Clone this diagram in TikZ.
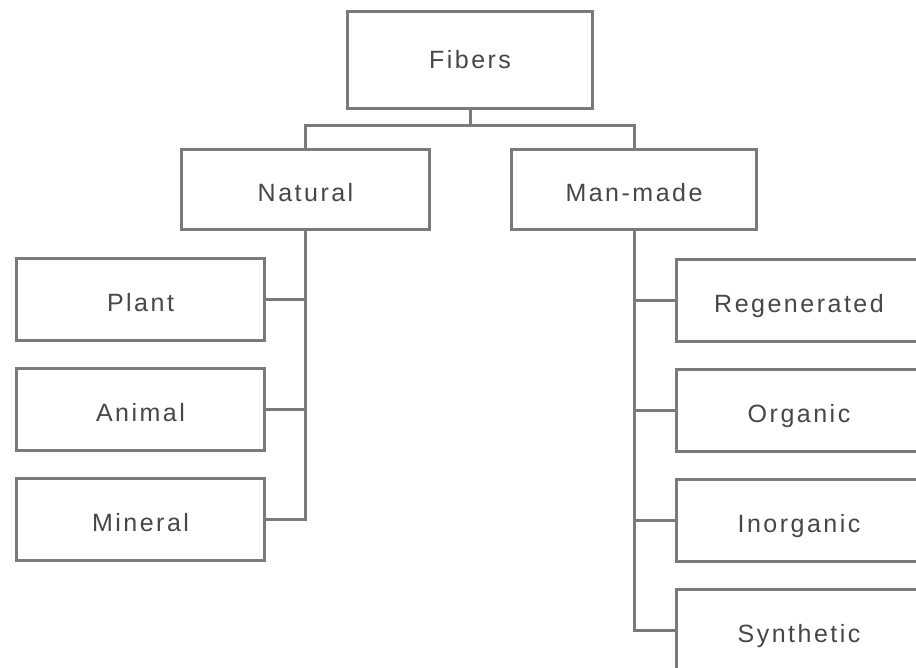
\documentclass[tikz,border=0pt]{standalone}
\usepackage{fontspec}
\setmainfont{Liberation Sans}[LetterSpace=10]
\begin{document}
\begin{tikzpicture}[x=1pt,y=-1pt,
  linecol/.style={draw=black!52, line width=3pt},
  fbox/.style={linecol, fill=white, minimum width=245pt, minimum height=82pt,
    inner sep=0pt, text=black!72, font=\fontsize{25}{29}\selectfont,
    text height=24pt, text depth=0pt, anchor=north west},
  link/.style={linecol}]
\useasboundingbox (0,0) rectangle (916,668);
% root and first level
\node[fbox, minimum height=97pt, text height=18pt] (fibers) at (346,10) {Fibers};
\node[fbox, minimum height=80pt, minimum width=248pt] (natural) at (180,148) {Natural};
\node[fbox, minimum height=80pt] (manmade) at (510,148) {Man-made};
% natural fibers
\node[fbox, minimum width=248pt] (plant) at (15,257) {Plant};
\node[fbox, minimum width=248pt] (animal) at (15,367) {Animal};
\node[fbox, minimum width=248pt] (mineral) at (15,477) {Mineral};
% man-made fibers
\node[fbox] (regen) at (675,258) {Regenerated};
\node[fbox] (organic) at (675,368) {Organic};
\node[fbox] (inorganic) at (675,478) {Inorganic};
\node[fbox] (synthetic) at (675,588) {Synthetic};
% tree connectors
\coordinate (bus) at (0,126);
\draw[link] (fibers.south) -- (fibers.south |- bus);
\draw[link] (natural.north) |- (manmade.north |- bus) -- (manmade.north);
\draw[link] (natural.south) |- (mineral.east);
\draw[link] (plant.east) -- (plant.east -| natural.south);
\draw[link] (animal.east) -- (animal.east -| natural.south);
\draw[link] (manmade.south) |- (synthetic.west);
\draw[link] (regen.west) -- (regen.west -| manmade.south);
\draw[link] (organic.west) -- (organic.west -| manmade.south);
\draw[link] (inorganic.west) -- (inorganic.west -| manmade.south);
\end{tikzpicture}
\end{document}
